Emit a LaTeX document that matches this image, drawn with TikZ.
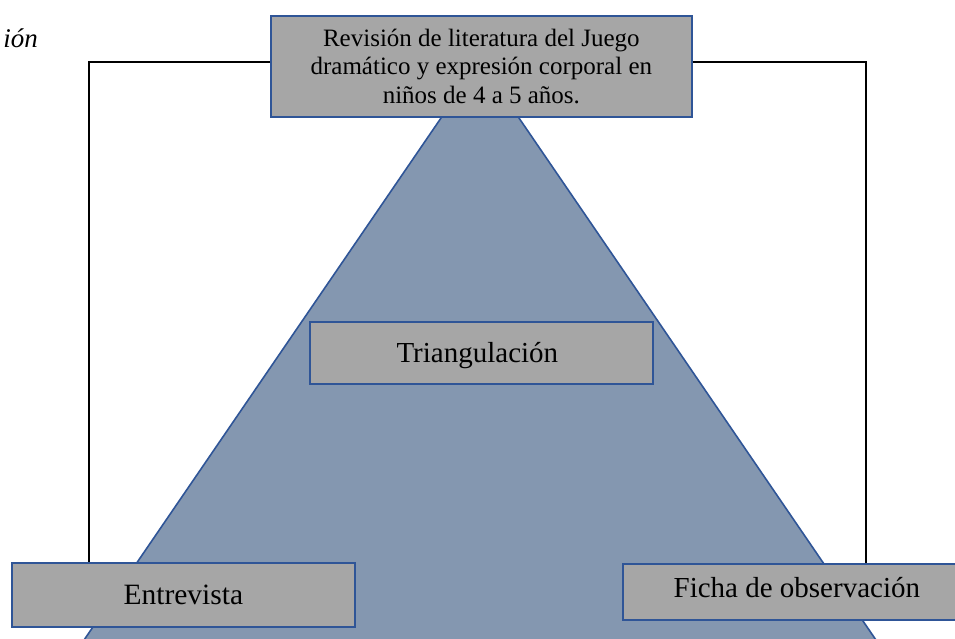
\documentclass[tikz,border=0pt]{standalone}
\usepackage{fontspec}
\setmainfont{Liberation Serif}
\definecolor{trifill}{HTML}{8497B0}
\definecolor{triedge}{HTML}{2F5597}
\definecolor{boxfill}{HTML}{A6A6A6}
\tikzset{
  gbox/.style={draw=triedge, line width=1.7pt, fill=boxfill, inner sep=0pt, anchor=north west, align=center},
  link/.style={draw=black, line width=1.6pt}
}
\begin{document}
\begin{tikzpicture}[x=1pt,y=-1pt]
\useasboundingbox (0,0) rectangle (955,639);
% triangle
\begin{scope}
\clip (0,0) rectangle (955,639);
\draw[fill=trifill, draw=triedge, line width=1.6pt] (480,61) -- (43,700) -- (917,700) -- cycle;
\end{scope}
% boxes
\node[gbox, minimum width=421pt, minimum height=101pt, font=\fontsize{25}{28.5}\selectfont] (top) at (270,15) {Revisión de literatura del Juego\\dramático y expresión corporal en\\niños de 4 a 5 años.};
\node[gbox, minimum width=343pt, minimum height=62pt, text depth=0pt, font=\fontsize{29}{33}\selectfont] (tri) at (309,321) {Triangulación\hspace*{8pt}};
\node[gbox, minimum width=343pt, minimum height=64pt, font=\fontsize{29.5}{33}\selectfont] (ent) at (11,562) {Entrevista};
\node[gbox, minimum width=340pt, minimum height=56pt, text depth=8pt, font=\fontsize{29}{33}\selectfont] (fic) at (622,563) {\hspace*{8pt}Ficha de observación};
% connectors
\coordinate (lc) at (89,62);
\coordinate (rc) at (866,62);
\draw[link] (top.west |- lc) -- (lc) -- (lc |- ent.north);
\draw[link] (top.east |- rc) -- (rc) -- (rc |- fic.north);
% cut-off caption
\node[anchor=base east, inner sep=0pt, font=\fontsize{27}{31}\selectfont\itshape] (cap) at (38,48) {ión};
\end{tikzpicture}
\end{document}
